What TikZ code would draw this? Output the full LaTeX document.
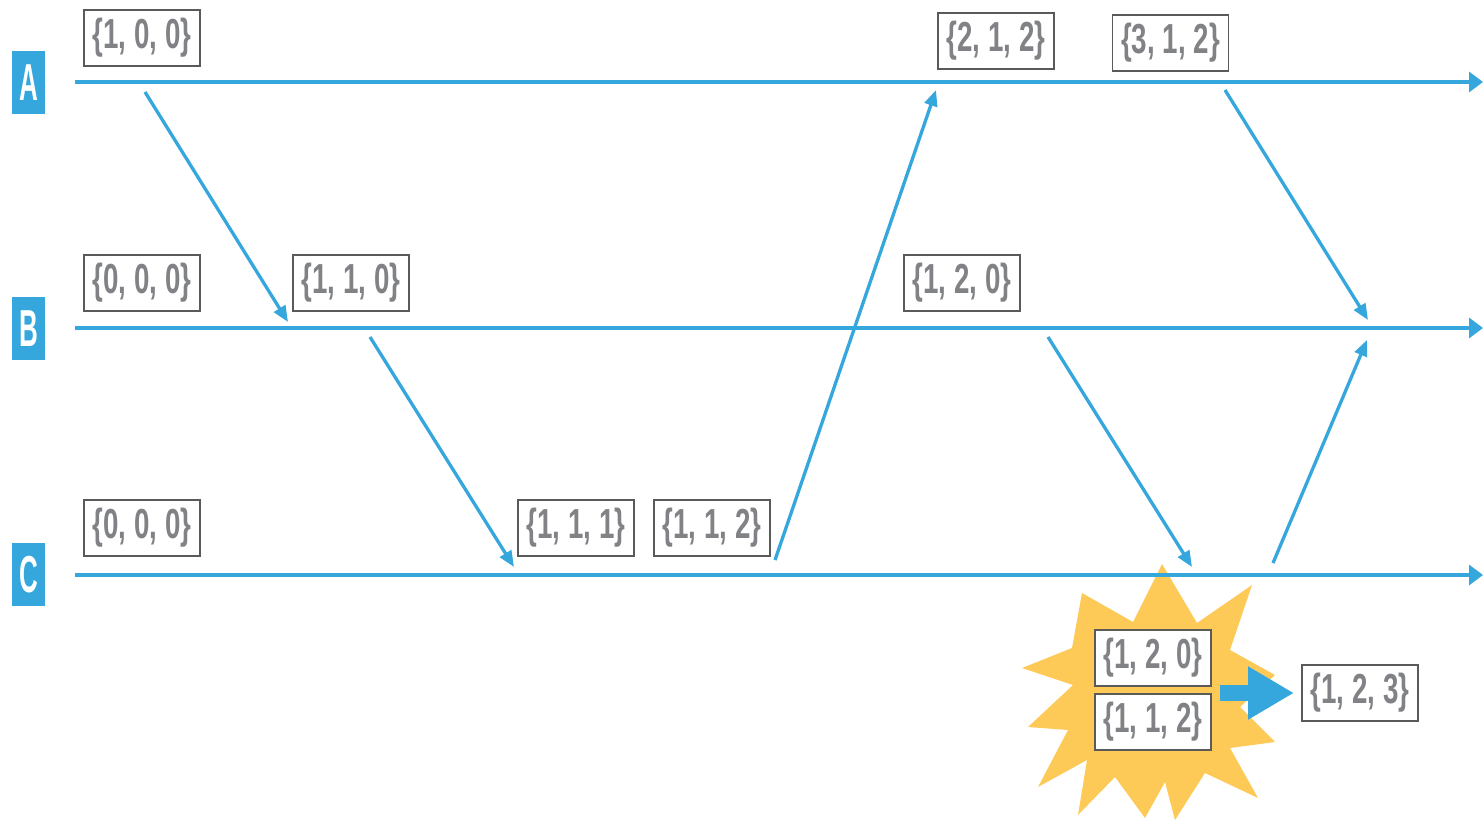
\documentclass[tikz,border=0pt]{standalone}
\usepackage{fontspec}
\usetikzlibrary{arrows.meta}
\newfontfamily\boxfont[FakeStretch=0.66]{Liberation Sans}
\newfontfamily\lblfont[FakeStretch=0.5]{Liberation Sans}
\definecolor{myblue}{RGB}{53,167,221}
\definecolor{boxline}{RGB}{90,90,90}
\definecolor{txtgray}{RGB}{128,130,133}
\definecolor{burst}{RGB}{253,201,87}
\begin{document}
\begin{tikzpicture}[x=1pt,y=-1pt,
  vc/.style={draw=boxline, line width=1.8pt, fill=white, minimum width=116pt, minimum height=56pt, inner sep=0pt, text=txtgray, font=\boxfont\bfseries\fontsize{42}{42}\selectfont},
  proc/.style={fill=myblue, minimum width=33pt, minimum height=63pt, inner sep=0pt, text=white, font=\lblfont\bfseries\fontsize{52}{52}\selectfont},
  tl/.style={draw=myblue, line width=4.5pt, -{Triangle[length=14pt,width=20pt]}},
  msg/.style={draw=myblue, line width=3.3pt, -{Triangle[length=16pt,width=13pt]}},
  bigarrow/.style={draw=myblue, line width=16pt, -{Triangle[length=46pt,width=50pt]}}
]
\useasboundingbox (0,0) rectangle (1483,821);
% starburst
\fill[burst] (1162,564) -- (1197,623) -- (1252,585) -- (1230,650) -- (1275,675) -- (1240,707) -- (1275,742) -- (1230,748) -- (1258,798) -- (1205,773) -- (1175,820) -- (1165,782) -- (1145,818) -- (1115,777) -- (1078,815) -- (1087,760) -- (1038,787) -- (1068,730) -- (1028,727) -- (1073,685) -- (1022,668) -- (1072,648) -- (1082,593) -- (1133,622) -- cycle;
% process labels
\node[proc] (pA) at (28.5,82.5) {A};
\node[proc] (pB) at (28.5,328.5) {B};
\node[proc] (pC) at (28.5,574.5) {C};
% timelines
\coordinate (As) at (75,82);  \coordinate (Ae) at (1483,82);
\coordinate (Bs) at (75,328); \coordinate (Be) at (1483,328);
\coordinate (Cs) at (75,575); \coordinate (Ce) at (1483,575);
\draw[tl] (As) -- (Ae);
\draw[tl] (Bs) -- (Be);
\draw[tl] (Cs) -- (Ce);
% messages
\coordinate (m1s) at (145,92);   \coordinate (m1e) at (288,322);
\coordinate (m2s) at (370,337);  \coordinate (m2e) at (514,567);
\coordinate (m3s) at (775,560);  \coordinate (m3e) at (936,90);
\coordinate (m4s) at (1225,90);  \coordinate (m4e) at (1368,320);
\coordinate (m5s) at (1048,337); \coordinate (m5e) at (1192,567);
\coordinate (m6s) at (1273,563); \coordinate (m6e) at (1367,340);
\draw[msg] (m1s) -- (m1e);
\draw[msg] (m2s) -- (m2e);
\draw[msg] (m3s) -- (m3e);
\draw[msg] (m4s) -- (m4e);
\draw[msg] (m5s) -- (m5e);
\draw[msg] (m6s) -- (m6e);
% vector clocks
\node[vc] (a1) at (142,38) {\{1, 0, 0\}};
\node[vc] (a2) at (996,41) {\{2, 1, 2\}};
\node[vc] (a3) at (1170.5,43) {\{3, 1, 2\}};
\node[vc] (b0) at (142,283) {\{0, 0, 0\}};
\node[vc] (b1) at (351,283) {\{1, 1, 0\}};
\node[vc] (b2) at (962,283) {\{1, 2, 0\}};
\node[vc] (c0) at (142,528) {\{0, 0, 0\}};
\node[vc] (c1) at (576,528) {\{1, 1, 1\}};
\node[vc] (c2) at (712,528) {\{1, 1, 2\}};
\node[vc] (m1) at (1153,658) {\{1, 2, 0\}};
\node[vc] (m2) at (1153,722) {\{1, 1, 2\}};
\node[vc] (res) at (1360,693) {\{1, 2, 3\}};
\coordinate (bas) at (1220,693);
\coordinate (bae) at (1294,693);
\draw[bigarrow] (bas) -- (bae);
\end{tikzpicture}
\end{document}
